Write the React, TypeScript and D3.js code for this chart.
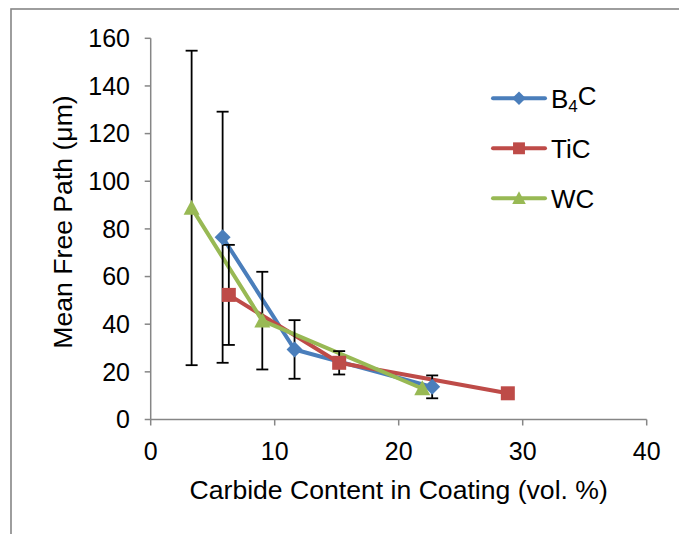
import React from "react";
import * as d3 from "d3";

const xTicks = [0, 10, 20, 30, 40];
const yTicks = [0, 20, 40, 60, 80, 100, 120, 140, 160];

const b4cX = [5.8, 11.6, 22.7];
const b4cY = [76.5, 29.4, 13.7];
const b4cErr = [52.7, 12.3, 4.8];

const ticX = [6.3, 15.2, 28.8];
const ticY = [52.3, 23.8, 11.0];
const ticErr = [21.0, 4.9, 0];

const wcX = [3.3, 9.0, 21.9];
const wcY = [88.8, 41.5, 13.0];
const wcErr = [66.0, 20.5, 0];

const seriesNames = ["B4C", "TiC", "WC"];
const colors = ["#4A7EBB", "#BE4B48", "#98B954"];

const W = 679;
const H = 534;
const FONT = "'Liberation Sans', Arial, sans-serif";

export default function App() {
  const x = d3.scaleLinear().domain([0, 40]).range([150.7, 646.7]);
  const y = d3.scaleLinear().domain([0, 160]).range([419.5, 38.3]);

  const series = [
    { name: seriesNames[0], xs: b4cX, ys: b4cY, err: b4cErr, color: colors[0], shape: "diamond" },
    { name: seriesNames[1], xs: ticX, ys: ticY, err: ticErr, color: colors[1], shape: "square" },
    { name: seriesNames[2], xs: wcX, ys: wcY, err: wcErr, color: colors[2], shape: "triangle" },
  ];

  const line = d3
    .line<[number, number]>()
    .x((d) => x(d[0]))
    .y((d) => y(d[1]));

  const marker = (shape: string, cx: number, cy: number, color: string, size = 1) => {
    if (shape === "diamond") {
      const r = 8 * size;
      return <path d={`M${cx},${cy - r}L${cx + r},${cy}L${cx},${cy + r}L${cx - r},${cy}Z`} fill={color} />;
    }
    if (shape === "square") {
      const r = 7 * size;
      return <rect x={cx - r} y={cy - r} width={2 * r} height={2 * r} fill={color} />;
    }
    const h = 15 * size;
    const w = 16 * size;
    return <path d={`M${cx},${cy - h * 0.55}L${cx + w / 2},${cy + h * 0.45}L${cx - w / 2},${cy + h * 0.45}Z`} fill={color} />;
  };

  const axisColor = "#868686";
  const x0 = x(0);
  const y0 = y(0);

  return (
    <svg width={W} height={H} style={{ position: "absolute", left: 0, top: 0, background: "#fff" }}>
      <rect x={11} y={9} width={W + 20} height={H + 20} fill="#fff" stroke={axisColor} strokeWidth={1.6} />

      {/* axes */}
      <line x1={x0} x2={x0} y1={y(160)} y2={y0} stroke={axisColor} strokeWidth={1.5} />
      <line x1={x0} x2={x(40)} y1={y0} y2={y0} stroke={axisColor} strokeWidth={1.5} />
      {yTicks.map((t) => (
        <g key={"y" + t}>
          <line x1={x0 - 6} x2={x0} y1={y(t)} y2={y(t)} stroke={axisColor} strokeWidth={1.5} />
          <text x={130} y={y(t)} dy="0.35em" textAnchor="end" fontFamily={FONT} fontSize={25} fill="#000">
            {t}
          </text>
        </g>
      ))}
      {xTicks.map((t) => (
        <g key={"x" + t}>
          <line x1={x(t)} x2={x(t)} y1={y0} y2={y0 + 6} stroke={axisColor} strokeWidth={1.5} />
          <text x={x(t)} y={460} textAnchor="middle" fontFamily={FONT} fontSize={25} fill="#000">
            {t}
          </text>
        </g>
      ))}

      <text x={398.7} y={499} textAnchor="middle" fontFamily={FONT} fontSize={26.6} fill="#000">
        Carbide Content in Coating (vol. %)
      </text>
      <text
        transform={`translate(72,222) rotate(-90)`}
        textAnchor="middle"
        fontFamily={FONT}
        fontSize={26.6}
        fill="#000"
      >
        Mean Free Path (μm)
      </text>

      {/* lines */}
      {series.map((s) => (
        <path
          key={"l" + s.name}
          d={line(s.xs.map((v, i) => [v, s.ys[i]]) as [number, number][]) || ""}
          fill="none"
          stroke={s.color}
          strokeWidth={4}
          strokeLinejoin="round"
          strokeLinecap="round"
        />
      ))}

      {/* error bars */}
      {series.map((s) =>
        s.xs.map((v, i) => {
          const e = s.err[i];
          if (!e) return null;
          const cx = x(v);
          const top = y(s.ys[i] + e);
          const bot = y(s.ys[i] - e);
          return (
            <g key={"e" + s.name + i} stroke="#000" strokeWidth={1.8}>
              <line x1={cx} x2={cx} y1={top} y2={bot} />
              <line x1={cx - 6} x2={cx + 6} y1={top} y2={top} />
              <line x1={cx - 6} x2={cx + 6} y1={bot} y2={bot} />
            </g>
          );
        })
      )}

      {/* markers */}
      {series.map((s) =>
        s.xs.map((v, i) => <g key={"m" + s.name + i}>{marker(s.shape, x(v), y(s.ys[i]), s.color)}</g>)
      )}

      {/* legend */}
      {series.map((s, i) => {
        const ly = 98.3 + i * 50;
        return (
          <g key={"lg" + s.name}>
            <line x1={493} x2={545} y1={ly} y2={ly} stroke={s.color} strokeWidth={4} strokeLinecap="round" />
            {marker(s.shape, 519, ly, s.color, 0.85)}
            <text x={551} y={ly} dy="0.36em" fontFamily={FONT} fontSize={26} fill="#000">
              {s.name === "B4C" ? (
                <>
                  B<tspan fontSize={17} dy="0.25em">4</tspan>
                  <tspan dy="-0.25em">C</tspan>
                </>
              ) : (
                s.name
              )}
            </text>
          </g>
        );
      })}
    </svg>
  );
}
